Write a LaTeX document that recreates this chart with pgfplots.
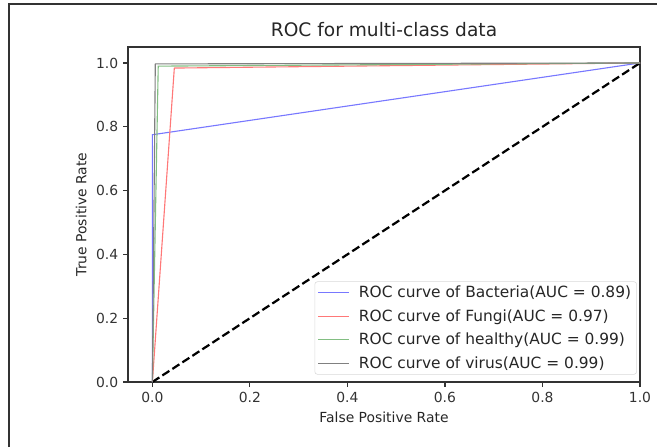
\documentclass[border=0pt]{standalone}
\usepackage{fontspec}
\setmainfont{DejaVu Sans}
\usepackage{pgfplots}
\pgfplotsset{compat=1.18}
\definecolor{cBact}{RGB}{120,120,255}
\definecolor{cFungi}{RGB}{255,120,120}
\definecolor{cHealthy}{RGB}{130,190,130}
\definecolor{cVirus}{RGB}{128,128,128}

\begin{document}
\begin{tikzpicture}
\useasboundingbox (-92.16pt,-46.8pt) rectangle (380.88pt,275.04pt);
\begin{axis}[
    scale only axis,
    width=368.64pt, height=241.2pt,
    xmin=-0.05, xmax=1.0,
    ymin=0, ymax=1.05,
    xtick={0,0.2,0.4,0.6,0.8,1.0},
    ytick={0,0.2,0.4,0.6,0.8,1.0},
    tick align=outside,
    xtick pos=bottom, ytick pos=left,
    major tick length=3.5pt,
    every tick/.style={black!80, line width=0.8pt},
    axis line style={black!80, line width=0.8pt},
    tick label style={font=\fontsize{10}{12}\selectfont, color=black!80},
    xticklabel style={/pgf/number format/.cd, fixed, fixed zerofill, precision=1, assume math mode=true},
    yticklabel style={/pgf/number format/.cd, fixed, fixed zerofill, precision=1, assume math mode=true},
    xlabel={False Positive Rate},
    ylabel={True Positive Rate},
    label style={font=\fontsize{10}{12}\selectfont, color=black!85},
    title={ROC for multi-class data},
    title style={font=\fontsize{13.4}{16}\selectfont, color=black!85, yshift=-2pt},
    legend style={at={(0.994,0.022)}, anchor=south east, font=\fontsize{11.1}{13.3}\selectfont,
        draw=black!15, rounded corners=2pt, row sep=3pt, inner xsep=2pt, inner ysep=1pt,
        text=black!85},
    legend cell align=left,
    legend image code/.code={\draw[#1] (0pt,0pt) -- (22pt,0pt); \path (27pt,0pt);},
]
\addplot[black, line width=1.6pt, dash pattern=on 6pt off 2.6pt, forget plot] coordinates {(0,0) (1,1)};
\addplot[cBact, line width=0.8pt] coordinates {(0,0) (0,0.775) (1,1)};
\addlegendentry{ROC curve of Bacteria(AUC = 0.89)}
\addplot[cFungi, line width=0.8pt] coordinates {(0,0) (0.045,0.984) (1,1)};
\addlegendentry{ROC curve of Fungi(AUC = 0.97)}
\addplot[cHealthy, line width=0.8pt] coordinates {(0,0) (0.012,0.99) (1,1)};
\addlegendentry{ROC curve of healthy(AUC = 0.99)}
\addplot[cVirus, line width=0.8pt] coordinates {(0,0) (0.006,0.997) (1,1)};
\addlegendentry{ROC curve of virus(AUC = 0.99)}
\end{axis}
\draw[black!80, line width=1.2pt] (-85.68pt,-46.8pt) -- (-85.68pt,272.16pt) -- (380.88pt,272.16pt);
\end{tikzpicture}
\end{document}
